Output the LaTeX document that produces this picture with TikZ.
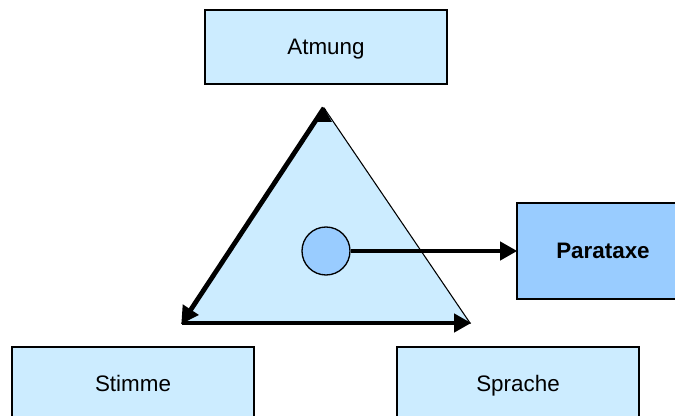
\documentclass[tikz,border=0pt]{standalone}
\usepackage{fontspec}
\setmainfont{Liberation Sans}
\usetikzlibrary{arrows.meta}
\definecolor{Hellblau}{HTML}{CCECFF}
\definecolor{Mittelblau}{HTML}{99CCFF}

\begin{document}
\begin{tikzpicture}[x=0.75pt, y=-0.75pt,
    box/.style={rectangle, draw=black, line width=1.5pt, fill=Hellblau, minimum width=181pt, minimum height=55.5pt, text height=13pt, text depth=1pt, font=\fontsize{16.8}{20}\selectfont},
    arrow/.style={-{Triangle[length=13pt, width=13.5pt]}, line width=3.6pt, shorten >=-1pt},
]
    \useasboundingbox (0,0) rectangle (675,416);
    \clip (0,0) rectangle (675,416);

    \node[box] (atmung) at (326,47) {Atmung};
    \node[box] (stimme) at (133,384) {Stimme};
    \node[box] (sprache) at (518,384) {Sprache};
    \node[box, fill=Mittelblau, minimum width=129pt, minimum height=72pt, font=\fontsize{16.8}{20}\selectfont\bfseries] (parataxe) at (603,251) {Parataxe};

    % Dreieck
    \coordinate (spitze) at (324,108);
    \coordinate (links) at (182,323);
    \coordinate (rechts) at (470,323);
    \draw[fill=Hellblau, line width=0.8pt] (spitze) -- (rechts) -- (links) -- cycle;

    \draw[arrow] (spitze) -- (links);
    \draw[arrow] (links) -- (rechts);
    \fill (spitze) -- ++(-7,14) -- ++(15,0) -- cycle;

    \node[circle, draw=black, line width=1pt, fill=Mittelblau, minimum size=36pt, inner sep=0pt] (kern) at (326,251) {};
    \draw[arrow] (kern) -- (parataxe);
\end{tikzpicture}
\end{document}
